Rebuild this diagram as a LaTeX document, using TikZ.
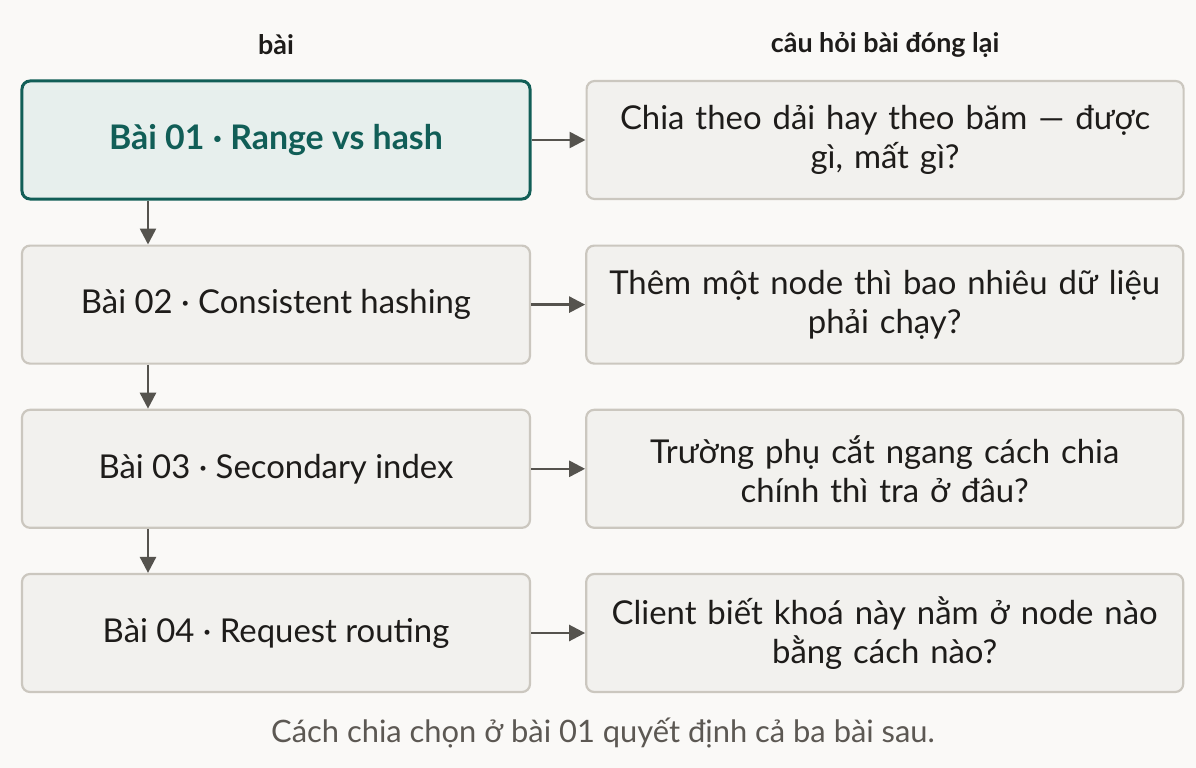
\documentclass[tikz,border=0pt]{standalone}
\usepackage{fontspec}
\setmainfont{Lato}
\usetikzlibrary{positioning,arrows.meta}
\definecolor{paper}{HTML}{FAF9F7}
\definecolor{boxfill}{HTML}{F2F1EE}
\definecolor{boxline}{HTML}{CBC7BF}
\definecolor{teal}{HTML}{115E57}
\definecolor{tealfill}{HTML}{E7EFED}
\definecolor{ink}{HTML}{1E1C1A}
\definecolor{arrowgray}{HTML}{55534E}
\definecolor{footgray}{HTML}{5C5853}

\begin{document}
\begin{tikzpicture}[x=1bp, y=1bp,
    box/.style={draw=boxline, fill=boxfill, line width=2.2bp, rounded corners=8bp,
                minimum height=118bp, align=center, inner sep=0pt, text=ink,
                font=\fontsize{33}{39}\selectfont},
    lesson/.style={box, minimum width=508bp},
    question/.style={box, minimum width=597bp, text width=590bp},
    current/.style={lesson, draw=teal, fill=tealfill, line width=3bp, text=teal,
                font=\fontsize{34}{39}\selectfont\bfseries},
    head/.style={text=ink, font=\fontsize{27}{30}\selectfont\bfseries},
    arr/.style={draw=arrowgray, line width=2.6bp, -{Triangle[length=16bp, width=16bp]}}]
        %canvas
        \fill[paper] (0,0) rectangle (1196,-768);
        \coordinate (lane) at (148,0);
        %lessons
        \node[current] (b1) at (276,-140) {Bài 01 · Range vs hash};
        \node[lesson, below=44bp of b1] (b2) {Bài 02 · Consistent hashing};
        \node[lesson, below=44bp of b2] (b3) {Bài 03 · Secondary index};
        \node[lesson, below=44bp of b3] (b4) {Bài 04 · Request routing};
        %questions
        \node[question, right=54bp of b1] (q1) {Chia theo dải hay theo băm — được\\gì, mất gì?};
        \node[question, right=54bp of b2] (q2) {Thêm một node thì bao nhiêu dữ liệu\\phải chạy?};
        \node[question, right=54bp of b3] (q3) {Trường phụ cắt ngang cách chia\\chính thì tra ở đâu?};
        \node[question, right=54bp of b4] (q4) {Client biết khoá này nằm ở node nào\\bằng cách nào?};
        %column heads
        \node[head] (hleft) at (b1.center |- 0,-45) {bài};
        \node[head] (hright) at (q1.center |- 0,-45) {câu hỏi bài đóng lại};
        %arrows
        \foreach \i in {1,2,3,4}
            \draw[arr] (b\i) -- (q\i);
        \draw[arr] (b1.south -| lane) -- (b2.north -| lane);
        \draw[arr] (b2.south -| lane) -- (b3.north -| lane);
        \draw[arr] (b3.south -| lane) -- (b4.north -| lane);
        %note
        \node[text=footgray, font=\fontsize{31}{34}\selectfont] (note) at (603,-733)
              {Cách chia chọn ở bài 01 quyết định cả ba bài sau.};
\end{tikzpicture}
\end{document}
